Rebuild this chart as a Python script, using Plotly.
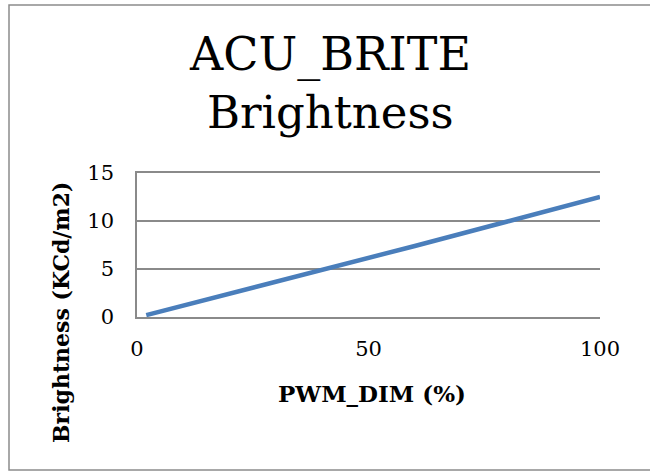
import plotly.graph_objects as go

# ---- data ----
pwm_dim = [2, 20, 40, 60, 80, 100]
brightness = [0.2, 2.4, 4.9, 7.4, 9.95, 12.5]
x_ticks = [0, 50, 100]
y_ticks = [0, 5, 10, 15]
title_lines = ["ACU_BRITE", "Brightness"]
x_title = "PWM_DIM (%)"
y_title = "Brightness (KCd/m2)"

W, H = 650, 472
L, R, T, B = 137, 50, 173, 155
PW, PH = W - L - R, H - T - B

def px(xp):
    return (xp - L) / PW

def py(yp):
    return (H - B - yp) / PH

SERIF = "'DejaVu Serif', 'Liberation Serif', serif"
GRID = "#8a8a8a"

fig = go.Figure()
fig.add_trace(go.Scatter(
    x=pwm_dim, y=brightness, mode="lines",
    line=dict(color="#4A7EBB", width=4.5),
    showlegend=False, hoverinfo="skip",
))

fig.update_layout(
    width=W, height=H,
    margin=dict(l=L, r=R, t=T, b=B, pad=0),
    paper_bgcolor="white", plot_bgcolor="white",
    font=dict(family=SERIF, color="black"),
    showlegend=False,
)
fig.update_xaxes(
    range=[0, 100], tickvals=x_ticks, showgrid=False, zeroline=False,
    showline=True, mirror=True, linecolor=GRID, linewidth=1.5, ticks="", ticklabelstandoff=12,
    tickfont=dict(family=SERIF, size=21, color="black"),
)
fig.update_yaxes(
    range=[0, 15], tickvals=y_ticks, showgrid=True, gridcolor=GRID,
    gridwidth=1.5, zeroline=False, showline=True, linecolor=GRID, linewidth=1.5,
    ticks="", ticklabelstandoff=17,
    tickfont=dict(family=SERIF, size=21, color="black"),
)

ann = []
ann.append(dict(text=title_lines[0], x=px(330), y=py(54), xref="paper", yref="paper",
                xanchor="center", yanchor="middle", showarrow=False,
                font=dict(family=SERIF, size=46, color="black")))
ann.append(dict(text=title_lines[1], x=px(330), y=py(112), xref="paper", yref="paper",
                xanchor="center", yanchor="middle", showarrow=False,
                font=dict(family=SERIF, size=45, color="black")))
ann.append(dict(text="<b>" + x_title + "</b>", x=px(372), y=py(393), xref="paper", yref="paper",
                xanchor="center", yanchor="middle", showarrow=False,
                font=dict(family=SERIF, size=23, color="black")))
ann.append(dict(text="<b>" + y_title + "</b>", x=px(61), y=py(313), xref="paper", yref="paper",
                xanchor="center", yanchor="middle", showarrow=False, textangle=-90,
                font=dict(family=SERIF, size=22, color="black")))
fig.update_layout(annotations=ann)

# outer chart frame
fig.add_shape(type="rect", xref="paper", yref="paper",
              x0=px(9), x1=px(660), y0=py(470), y1=py(5),
              line=dict(color="#8c8c8c", width=1.5), fillcolor="rgba(0,0,0,0)", layer="below")

fig.write_html("out.html", config={"displayModeBar": False},
               post_script="document.body.style.margin='0';")
